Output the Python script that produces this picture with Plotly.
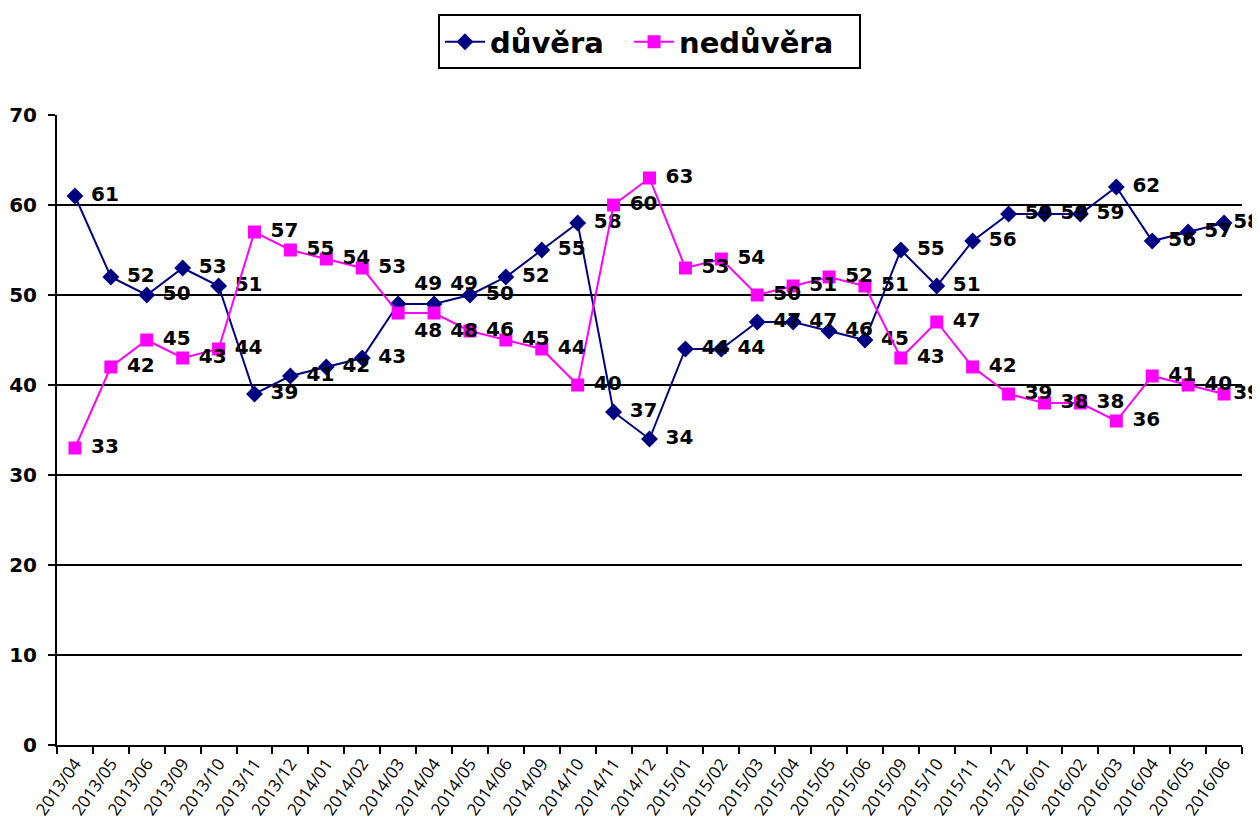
import plotly.graph_objects as go

months = ["2013/04", "2013/05", "2013/06", "2013/09", "2013/10", "2013/11", "2013/12",
          "2014/01", "2014/02", "2014/03", "2014/04", "2014/05", "2014/06", "2014/09",
          "2014/10", "2014/11", "2014/12", "2015/01", "2015/02", "2015/03", "2015/04",
          "2015/05", "2015/06", "2015/09", "2015/10", "2015/11", "2015/12", "2016/01",
          "2016/02", "2016/03", "2016/04", "2016/05", "2016/06"]
duvera = [61, 52, 50, 53, 51, 39, 41, 42, 43, 49, 49, 50, 52, 55, 58, 37, 34, 44, 44, 47,
          47, 46, 45, 55, 51, 56, 59, 59, 59, 62, 56, 57, 58]
neduvera = [33, 42, 45, 43, 44, 57, 55, 54, 53, 48, 48, 46, 45, 44, 40, 60, 63, 53, 54, 50,
            51, 52, 51, 43, 47, 42, 39, 38, 38, 36, 41, 40, 39]

lab_font = dict(family="DejaVu Sans", size=20, color="black")


def labels(vals):
    out = []
    for i, v in enumerate(vals):
        pad = "" if i == len(vals) - 1 else " "
        out.append(f"<b>{pad}{v}</b>")
    return out


pos_d = ["middle right"] * len(months)
pos_n = ["middle right"] * len(months)
pos_d[9] = "top right"
pos_d[10] = "top right"
pos_n[9] = "bottom right"
pos_n[10] = "bottom right"

fig = go.Figure()
fig.add_trace(go.Scatter(
    x=months, y=duvera, name="<b>důvěra\u00a0\u00a0</b>", mode="lines+markers+text",
    line=dict(color="#000080", width=2),
    marker=dict(symbol="diamond", size=13, color="#000080"),
    text=labels(duvera), textposition=pos_d,
    textfont=lab_font, cliponaxis=False,
))
fig.add_trace(go.Scatter(
    x=months, y=neduvera, name="<b>nedůvěra\u00a0\u00a0</b>", mode="lines+markers+text",
    line=dict(color="#FF00FF", width=2),
    marker=dict(symbol="square", size=13, color="#FF00FF"),
    text=labels(neduvera), textposition=pos_n,
    textfont=lab_font, cliponaxis=False,
))

fig.update_layout(
    width=1252, height=816,
    margin=dict(l=49, r=18, t=107, b=79, autoexpand=False),
    paper_bgcolor="white", plot_bgcolor="white",
    showlegend=True,
    legend=dict(
        orientation="h", x=0.5, xanchor="center", y=1.116, yanchor="middle",
        bordercolor="black", borderwidth=2, bgcolor="white",
        font=dict(family="DejaVu Sans", size=29, color="black"),
        itemwidth=40,
    ),
    xaxis=dict(
        type="category", tickson="boundaries", ticks="outside", ticklen=7,
        tickwidth=2, tickcolor="black", showline=True, linecolor="black", linewidth=2,
        showgrid=False, tickangle=-55, automargin=False,
        tickfont=dict(family="Open Sans", size=17, color="black"),
        range=[-0.5, len(months) - 0.5],
    ),
    yaxis=dict(
        range=[0, 70], dtick=10, ticks="outside", ticklen=7, tickwidth=2,
        tickcolor="black", showline=True, linecolor="black", linewidth=2,
        showgrid=True, gridcolor="black", gridwidth=2, zeroline=False,
        automargin=False, ticklabelstandoff=7,
        tickfont=dict(family="DejaVu Sans", size=20, color="black"),
        tickprefix="<b>", ticksuffix="</b>",
    ),
)

fig.write_html("out.html")
